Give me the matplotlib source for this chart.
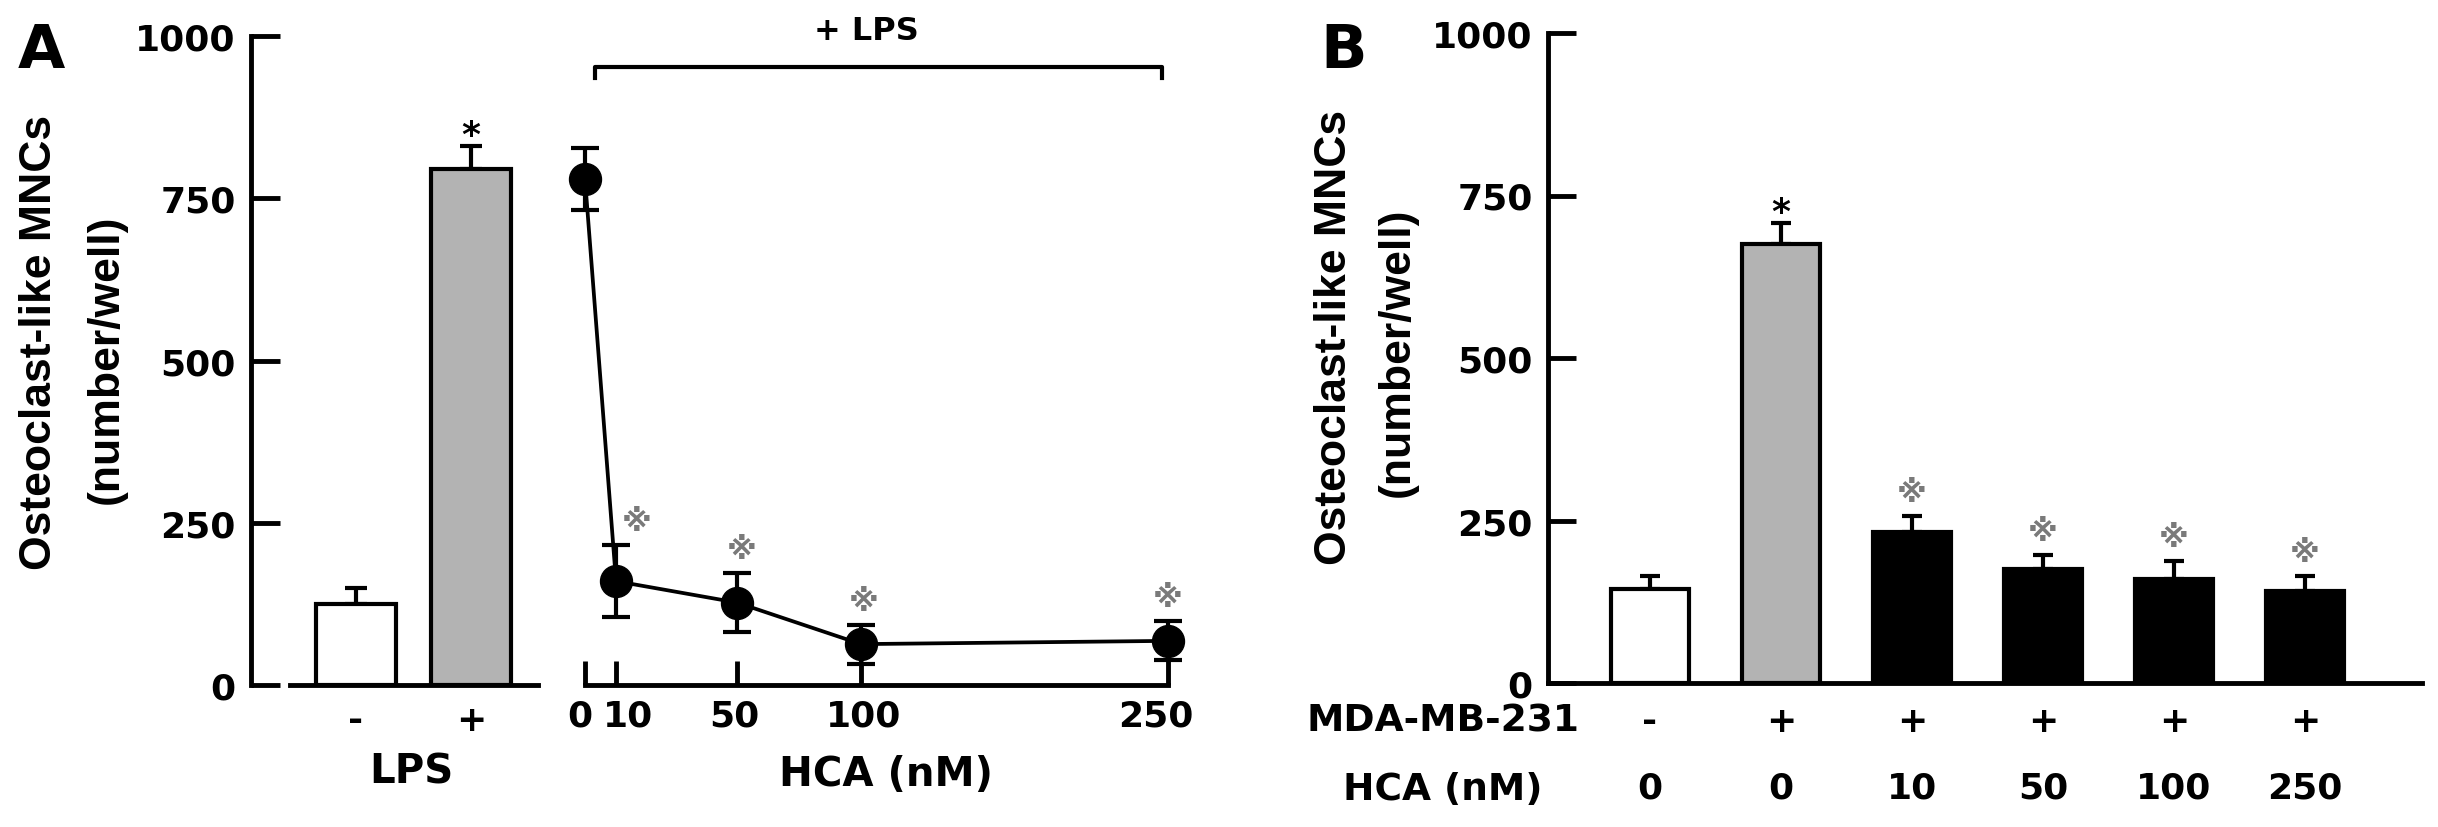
import numpy as np
import matplotlib
matplotlib.use('Agg')
import matplotlib.pyplot as plt
from matplotlib import transforms

plt.rcParams['font.family'] = ['DejaVu Sans', 'Noto Sans CJK JP']
plt.rcParams['font.weight'] = 'bold'

# A, left: bars, LPS -/+
lps_labels = ['-', '+']
lps_mean = [125, 795]
lps_err = [25, 35]
lps_mark = ['', '*']

# A, right: HCA dose curve (+LPS)
hca_nm = [0, 10, 50, 100, 250]
hca_mean = [780, 160, 127, 63, 68]
hca_err = [48, 55, 45, 30, 30]
hca_mark = ['', '※', '※', '※', '※']

# B: MDA-MB-231 co-culture
mda_sign = ['-', '+', '+', '+', '+', '+']
mda_hca = ['0', '0', '10', '50', '100', '250']
mda_mean = [145, 675, 232, 175, 160, 142]
mda_err = [20, 32, 25, 22, 28, 22]
mda_mark = ['', '*', '※', '※', '※', '※']

yticks = [0, 250, 500, 750, 1000]
ylab = 'Osteoclast-like MNCs'
ylab2 = '(number/well)'

W, H = 2438, 828
fig = plt.figure(figsize=(W / 100, H / 100), dpi=100)

def box(l, t, r, b):
    return [l / W, 1 - b / H, (r - l) / W, (b - t) / H]

def fy(ypx):
    return 1 - ypx / H

GRAY = '#b3b3b3'
MARK = '#7a7a7a'
LW = 3.5

def y_axis(ax, ticklen):
    ax.set_ylim(0, 1000)
    ax.set_yticks(yticks)
    ax.spines[['top', 'right']].set_visible(False)
    ax.spines[['left', 'bottom']].set_linewidth(LW)
    ax.tick_params(axis='y', direction='in', length=ticklen, width=LW, pad=11, labelsize=26)
    ax.tick_params(axis='x', bottom=False, labelbottom=False)
    ax.set_facecolor('none')

def marks(ax, xs, tops, labels, dxs=None):
    for i, (x, t, m) in enumerate(zip(xs, tops, labels)):
        if not m:
            continue
        dx = dxs[i] if dxs else 0
        if m == '*':
            ax.annotate(m, (x, t), xytext=(dx, 1), textcoords='offset points', ha='center',
                        va='baseline', fontsize=26, color='black', annotation_clip=False)
        else:
            ax.annotate(m, (x, t), xytext=(dx, 17), textcoords='offset points', ha='center',
                        va='center', fontsize=22, color=MARK, annotation_clip=False)

##### Panel A : bars #####
axA = fig.add_axes(box(251, 37, 538, 686))
y_axis(axA, 21)
xa = np.arange(len(lps_mean))
axA.bar(xa, lps_mean, width=0.69, color=['white', GRAY], edgecolor='black', linewidth=3, zorder=3)
axA.errorbar(xa, lps_mean, yerr=[np.zeros(len(xa)), lps_err], fmt='none', ecolor='black',
             elinewidth=3, capsize=8, capthick=3, zorder=2)
axA.set_xlim(-0.913, 1.583)
axA.spines['bottom'].set_bounds(-0.574, 1.583)
tA = transforms.blended_transform_factory(axA.transData, fig.transFigure)
for x, s in zip(xa, lps_labels):
    axA.text(x, fy(721), s, transform=tA, ha='center', va='center', fontsize=26)
axA.text(0.478, fy(773), 'LPS', transform=tA, ha='center', va='center', fontsize=29)
marks(axA, xa, np.add(lps_mean, lps_err), lps_mark)

##### Panel A : dose curve #####
pos_px = [0, 31, 152, 276, 583]
fwd = lambda x: np.interp(x, hca_nm, pos_px)
inv = lambda p: np.interp(p, pos_px, hca_nm)
axL = fig.add_axes(box(585, 37, 1168, 686))
axL.set_xscale('function', functions=(fwd, inv))
axL.set_xlim(0, 250)
axL.set_ylim(0, 1000)
axL.set_facecolor('none')
axL.spines[['top', 'right', 'left']].set_visible(False)
axL.spines['bottom'].set_linewidth(LW)
axL.set_xticks(hca_nm)
axL.xaxis.set_minor_locator(matplotlib.ticker.NullLocator())
axL.tick_params(axis='x', direction='in', length=17, width=LW, labelbottom=False)
axL.tick_params(axis='y', left=False, labelleft=False)
eb = axL.errorbar(hca_nm, hca_mean, yerr=hca_err, fmt='-o', color='black', ms=23, lw=2.7,
                  elinewidth=3, capsize=10, capthick=3, zorder=3)
for a in eb.get_children():
    a.set_clip_on(False)
tL = transforms.blended_transform_factory(axL.transData, fig.transFigure)
lab_dx = [-4, 9, -2, 2, -9]
for x, dx in zip(hca_nm, lab_dx):
    axL.annotate(str(x), (x, fy(717)), xycoords=tL, xytext=(dx, 0), textcoords='offset points',
                 ha='center', va='center', fontsize=26, annotation_clip=False)
fig.text(886 / W, fy(775), 'HCA (nM)', ha='center', va='center', fontsize=29)
marks(axL, hca_nm, np.add(hca_mean, hca_err), hca_mark, dxs=[0, 15, 3, 2, 0])
axL.plot([0.017, 0.017, 0.990, 0.990], [0.935, 0.952, 0.952, 0.935], transform=axL.transAxes,
         clip_on=False, color='black', lw=3)
axL.text(0.482, 1.008, '+ LPS', transform=axL.transAxes, ha='center', va='center', fontsize=23)

##### Panel B #####
axB = fig.add_axes(box(1548, 34, 2422, 684))
y_axis(axB, 20)
xb = np.arange(len(mda_mean))
axB.bar(xb, mda_mean, width=0.6, color=['white', GRAY] + ['black'] * 4, edgecolor='black',
        linewidth=3, zorder=3)
axB.errorbar(xb, mda_mean, yerr=[np.zeros(len(xb)), mda_err], fmt='none', ecolor='black',
             elinewidth=3, capsize=7.5, capthick=3, zorder=2)
axB.set_xlim(-0.779, 5.893)
tB = transforms.blended_transform_factory(axB.transData, fig.transFigure)
for x, s, h in zip(xb, mda_sign, mda_hca):
    axB.text(x, fy(722), s, transform=tB, ha='center', va='center', fontsize=26)
    axB.text(x, fy(789), h, transform=tB, ha='center', va='center', fontsize=26)
axB.text(-1.58, fy(722), 'MDA-MB-231', transform=tB, ha='center', va='center', fontsize=27)
axB.text(-1.58, fy(790), 'HCA (nM)', transform=tB, ha='center', va='center', fontsize=27)
marks(axB, xb, np.add(mda_mean, mda_err), mda_mark)

##### y labels, panel letters #####
for (x1, y1), (x2, y2) in [((40, 342), (106, 359)), ((1335, 337), (1397, 352))]:
    fig.text(x1 / W, fy(y1), ylab, rotation=90, ha='center', va='center',
             family='Liberation Sans', fontsize=32)
    fig.text(x2 / W, fy(y2), ylab2, rotation=90, ha='center', va='center',
             family='Liberation Sans', fontsize=32)
fig.text(18 / W, fy(22), 'A', ha='left', va='top', fontsize=44)
fig.text(1320 / W, fy(22), 'B', ha='left', va='top', fontsize=44)

fig.savefig('out.png', dpi=100)
